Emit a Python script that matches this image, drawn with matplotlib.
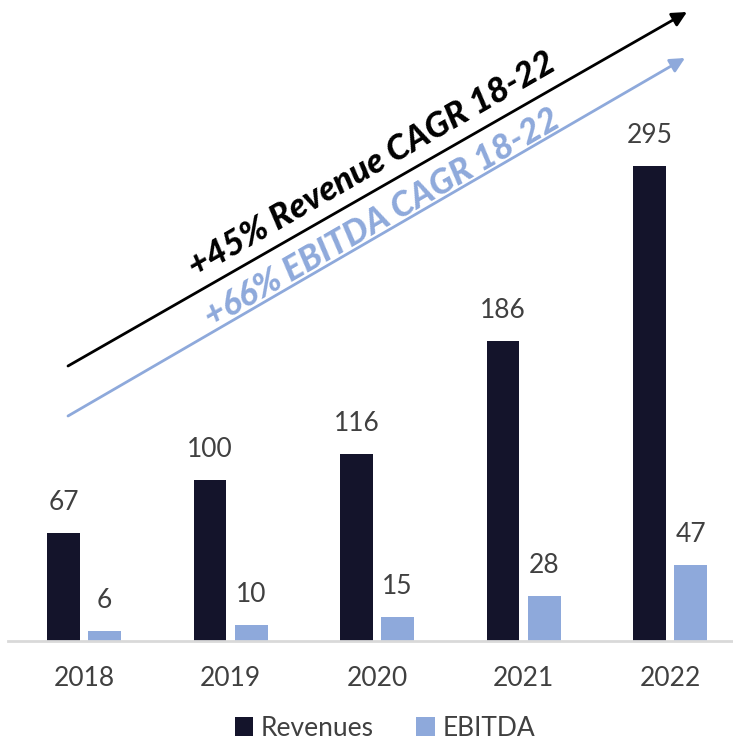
import matplotlib
matplotlib.use("Agg")
import matplotlib.pyplot as plt
import numpy as np

years = ["2018", "2019", "2020", "2021", "2022"]
revenues = [67, 100, 116, 186, 295]
ebitda = [6, 10, 15, 28, 47]
series_names = ["Revenues", "EBITDA"]
rev_cagr_text = "+45% Revenue CAGR 18-22"
ebitda_cagr_text = "+66% EBITDA CAGR 18-22"

W, H = 733, 743
plt.rcParams['font.family'] = ['Lato', 'DejaVu Sans']
fig = plt.figure(figsize=(W / 100, H / 100), dpi=100)

base_px = 641
ax = fig.add_axes([8 / W, (H - base_px) / H, 1 - 8 / W, base_px / H])

navy = "#14142B"
blue = "#8EA9DB"
txt = "#404040"

x = np.arange(len(years))
bw = 0.225
off = 0.14
b1 = ax.bar(x - off, revenues, bw, color=navy, label=series_names[0])
b2 = ax.bar(x + off, ebitda, bw, color=blue, label=series_names[1])

for bars, vals in ((b1, revenues), (b2, ebitda)):
    for r, v in zip(bars, vals):
        ax.annotate(str(v), (r.get_x() + r.get_width() / 2, v),
                    xytext=(0, 13), textcoords="offset points",
                    ha="center", va="bottom", fontsize=19, color=txt)

ax.set_xlim(-0.519, 4.43)
ax.set_ylim(0, 398)
ax.set_xticks(x)
ax.set_xticklabels(years, fontsize=19, color=txt)
ax.tick_params(axis="x", length=0, pad=18)
ax.set_yticks([])
for s in ["top", "right", "left"]:
    ax.spines[s].set_visible(False)
ax.spines["bottom"].set_color("#D9D9D9")
ax.spines["bottom"].set_linewidth(2)

def fpt(px, py):
    return (px / W, 1 - py / H)

ax.annotate("", xy=fpt(687, 12), xytext=fpt(68, 366), xycoords="figure fraction",
            textcoords="figure fraction",
            arrowprops=dict(arrowstyle="-|>", lw=2, color="black", mutation_scale=22,
                            shrinkA=0, shrinkB=0))
ax.annotate("", xy=fpt(685, 58), xytext=fpt(68, 416), xycoords="figure fraction",
            textcoords="figure fraction",
            arrowprops=dict(arrowstyle="-|>", lw=2, color=blue, mutation_scale=22,
                            shrinkA=0, shrinkB=0))

cx, cy = fpt(372, 165)
fig.text(cx, cy, rev_cagr_text, rotation=30, rotation_mode="anchor",
         ha="center", va="center", fontsize=25, fontweight="black",
         fontstyle="italic", color="black")
cx, cy = fpt(382, 218)
fig.text(cx, cy, ebitda_cagr_text, rotation=30, rotation_mode="anchor",
         ha="center", va="center", fontsize=25, fontweight="black",
         fontstyle="italic", color=blue)

fig.legend(handles=[b1, b2], labels=series_names, loc="center",
           bbox_to_anchor=(385 / W, 1 - 728 / H), ncol=2, frameon=False,
           fontsize=19, handlelength=0.7, handleheight=0.7, handletextpad=0.3,
           columnspacing=1.6, labelcolor=txt)

fig.savefig("out.png", dpi=100)
